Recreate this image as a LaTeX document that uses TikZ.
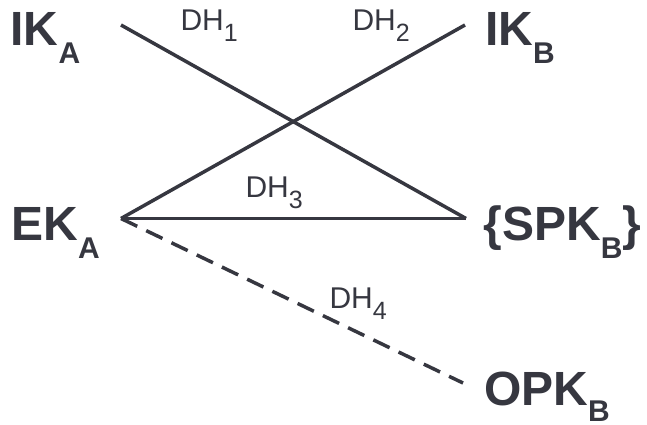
\documentclass[tikz,border=0pt]{standalone}
\usepackage{fontspec}
\setmainfont{Liberation Sans}
\definecolor{ink}{RGB}{54,55,64}
\newcommand\keylbl[4][-18pt]{{\fontsize{48}{48}\selectfont\bfseries #2}\raisebox{#1}{\fontsize{30}{30}\selectfont\bfseries #3}{\fontsize{48}{48}\selectfont\bfseries #4}}
\newcommand\dhlbl[1]{{\fontsize{30}{30}\selectfont DH}\raisebox{-11pt}{\fontsize{25}{25}\selectfont #1}}
\begin{document}
\begin{tikzpicture}[x=1pt,y=-1pt,
  lbl/.style={anchor=base west,inner sep=0pt,outer sep=0pt,text=ink},
  link/.style={draw=ink,line width=3.5pt},
  optlink/.style={link,dash pattern=on 18pt off 10pt}]
\useasboundingbox (0,0) rectangle (647,425);
% key labels
\node[lbl] (IKA) at (10.5,46) {\keylbl{IK}{A}{}};
\node[lbl] (IKB) at (485,46) {\keylbl{IK}{B}{}};
\node[lbl] (EKA) at (11.5,240) {\keylbl{EK}{A}{}};
\node[lbl] (SPKB) at (483.5,240) {\keylbl{\{SPK}{B}{\}}};
\node[lbl] (OPKB) at (484,405) {\keylbl[-16.5pt]{OPK}{B}{}};
% line ends
\coordinate (ika) at (121,25);
\coordinate (ikb) at (465,25);
\coordinate (eka) at (121,218.5);
\coordinate (spkb) at (466,218.5);
\coordinate (opkb) at (463,383);
% connectors
\draw[link] (ika) -- (spkb);
\draw[link] (eka) -- (ikb);
\draw[link] (eka) -- (spkb);
\draw[optlink] (eka) -- (opkb);
% DH labels
\node[lbl] (dh1) at (180.5,31) {\dhlbl{1}};
\node[lbl] (dh2) at (352.5,31) {\dhlbl{2}};
\node[lbl] (dh3) at (245.5,197) {\dhlbl{3}};
\node[lbl] (dh4) at (329.5,308) {\dhlbl{4}};
\end{tikzpicture}
\end{document}
